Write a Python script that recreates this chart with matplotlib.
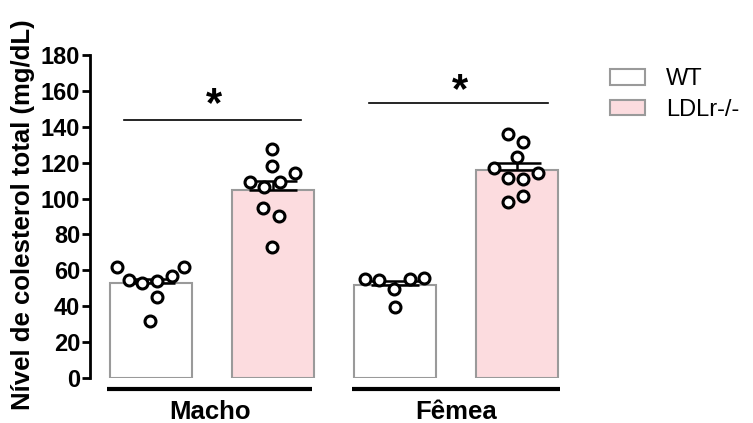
import numpy as np
import matplotlib
matplotlib.use('Agg')
import matplotlib.pyplot as plt
from matplotlib.patches import Patch

plt.rcParams['font.family'] = ['Liberation Sans', 'DejaVu Sans']

groups = ['Macho', 'Fêmea']
genotypes = ['WT', 'LDLr-/-']

bar_means = [53, 105, 52, 116]
bar_sem = [2, 5, 2, 4]

# individual animals per bar
pts_macho_wt = [62, 62, 54.5, 53, 54, 57, 45, 32]
pts_macho_ko = [127.5, 118, 109, 106.5, 109, 114, 95, 90, 73]
pts_femea_wt = [55, 54.5, 55, 56, 49.5, 39.5]
pts_femea_ko = [136, 131.5, 123, 117, 111.5, 111, 114, 98, 101.5]
points = [pts_macho_wt, pts_macho_ko, pts_femea_wt, pts_femea_ko]

jitter_macho_wt = [-0.28, 0.27, -0.18, -0.07, 0.05, 0.17, 0.05, -0.01]
jitter_macho_ko = [-0.01, -0.01, -0.19, -0.07, 0.06, 0.18, -0.08, 0.05, -0.01]
jitter_femea_wt = [-0.25, -0.13, 0.12, 0.24, -0.01, 0.0]
jitter_femea_ko = [-0.07, 0.05, 0.0, -0.19, -0.07, 0.05, 0.17, -0.07, 0.05]
jitters = [jitter_macho_wt, jitter_macho_ko, jitter_femea_wt, jitter_femea_ko]

fill_colors = ['white', '#fcdcdf', 'white', '#fcdcdf']
edge_color = '#9a9a9a'

W, H = 753, 423
fig = plt.figure(figsize=(W / 100, H / 100), dpi=100)
ax = fig.add_axes([90 / W, (H - 378) / H, (578 - 90) / W, (378 - 55) / H])

xpos = np.arange(4)
ax.bar(xpos, bar_means, width=0.67, color=fill_colors, edgecolor=edge_color,
       linewidth=1.5, zorder=1)
ax.errorbar(xpos, bar_means, yerr=[np.zeros(4), bar_sem], fmt='none',
            ecolor='black', elinewidth=1.8, capsize=17, capthick=1.8, zorder=3)

for x, vals, jit in zip(xpos, points, jitters):
    ax.scatter(x + np.array(jit), vals, s=62, facecolor='white',
               edgecolor='black', linewidth=2.2, zorder=4)

# significance bars
ax.plot([-0.22, 1.23], [144, 144], color='black', lw=1.2, clip_on=False)
ax.text(0.52, 141, '*', ha='center', va='bottom', fontsize=30, fontweight='bold')
ax.plot([1.79, 3.25], [153, 153], color='black', lw=1.2, clip_on=False)
ax.text(2.53, 148.5, '*', ha='center', va='bottom', fontsize=30, fontweight='bold')

# group underlines and labels
for (x0, x1), name in zip([(-0.357, 1.32), (1.65, 3.35)], groups):
    ax.plot([x0, x1], [-6, -6], color='black', lw=3, clip_on=False,
            solid_capstyle='butt')
    ax.text((x0 + x1) / 2, -19, name, ha='center', va='center', fontsize=18.5,
            fontweight='bold')

ax.set_xlim(-0.5, 3.5)
ax.set_ylim(0, 180)
ax.set_yticks(np.arange(0, 181, 20))
ax.set_xticks([])
for side in ['top', 'right', 'bottom']:
    ax.spines[side].set_visible(False)
ax.spines['left'].set_linewidth(2)
ax.tick_params(axis='y', length=6, width=2, labelsize=17, pad=1)
for lab in ax.get_yticklabels():
    lab.set_fontweight('bold')

fig.text(23 / W, 1 - 215 / H, 'Nível de colesterol total (mg/dL)', rotation=90,
         ha='center', va='center', fontsize=18.5, fontweight='bold')

handles = [Patch(facecolor=fill_colors[0], edgecolor=edge_color, lw=1.5),
           Patch(facecolor=fill_colors[1], edgecolor=edge_color, lw=1.5)]
fig.legend(handles, genotypes, loc='upper left',
           bbox_to_anchor=(610 / W, 1 - 68 / H), frameon=False, fontsize=17,
           handlelength=1.48, handleheight=0.64, labelspacing=0.38,
           handletextpad=0.9, borderpad=0, borderaxespad=0)

fig.savefig('out.png', dpi=100)
